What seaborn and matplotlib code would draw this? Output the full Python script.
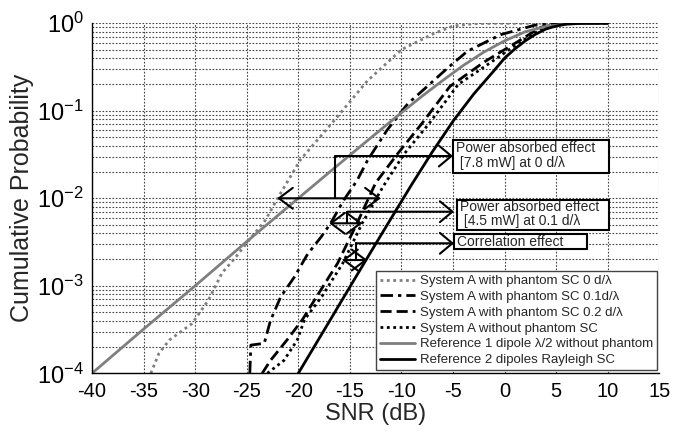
import matplotlib
matplotlib.use("Agg")
import matplotlib.pyplot as plt
from matplotlib.lines import Line2D
from matplotlib.patches import Rectangle
import seaborn as sns
import pandas as pd

# ---------------- data ----------------
snr_sc0 = [-34.3, -33.5, -32.5, -30.3, -28.7, -27.4, -26.1, -24.8, -23.2, -21.9,
           -19.8, -16.5, -13.3, -10.0, -6.8, -5.0, -3.0, -1.0, 10.0]
cdf_sc0 = [1e-4, 1.7e-4, 2.4e-4, 3.7e-4, 6.9e-4, 1.4e-3, 2.1e-3, 3.3e-3, 5.6e-3, 0.0105,
           0.0275, 0.078, 0.22, 0.50, 0.77, 0.93, 0.99, 1.0, 1.0]

snr_sc01 = [-24.7, -24.6, -23.3, -22.7, -21.7, -20.4, -19.1, -17.8, -16.9, -15.6,
            -14.3, -13.3, -11.4, -9.4, -7.5, -5.5, -3.6, -0.4, 2.9, 5.0, 7.0, 10.0]
cdf_sc01 = [1e-4, 2.1e-4, 2.2e-4, 4e-4, 7.5e-4, 1.25e-3, 2.3e-3, 3.6e-3, 5.1e-3, 9.5e-3,
            0.016, 0.027, 0.06, 0.12, 0.19, 0.31, 0.48, 0.74, 0.95, 0.995, 1.0, 1.0]

snr_sc02 = [-23.5, -22.7, -21.1, -19.6, -18.2, -16.2, -14.3, -12.5, -10.4, -8.0,
            -5.3, -2.0, 1.3, 3.5, 5.5, 7.0, 10.0]
cdf_sc02 = [1e-4, 1.4e-4, 2.4e-4, 4.1e-4, 7.6e-4, 1.8e-3, 5.2e-3, 0.015, 0.032, 0.072,
            0.19, 0.36, 0.62, 0.9, 0.99, 1.0, 1.0]

snr_nophantom = [-23.0, -21.4, -20.1, -19.4, -17.7, -15.7, -13.8, -11.8, -9.75, -7.3,
                 -4.5, -1.3, 1.6, 3.9, 6.0, 8.0, 10.0]
cdf_nophantom = [1e-4, 1.4e-4, 2.4e-4, 4.1e-4, 7.6e-4, 1.8e-3, 5.2e-3, 0.0135, 0.032, 0.072,
                 0.2, 0.36, 0.62, 0.9, 0.99, 1.0, 1.0]

snr_ref1 = [-40, -35, -30, -25, -20, -17, -14, -12, -10, -8, -6, -4, -2, 0, 2, 4, 6, 8, 10]
cdf_ref1 = [1.0e-4, 3.2e-4, 1.0e-3, 3.2e-3, 0.01, 0.0198, 0.039, 0.061, 0.095, 0.147,
            0.222, 0.33, 0.47, 0.63, 0.80, 0.92, 0.98, 0.998, 1.0]

snr_ref2 = [-20, -17, -15, -13, -11, -9, -7, -5, -3, -1, 0, 1, 2, 3, 4, 5, 6, 7, 8, 10]
cdf_ref2 = [1.0e-4, 3.9e-4, 9.7e-4, 2.4e-3, 5.9e-3, 0.0144, 0.034, 0.076, 0.155, 0.29,
            0.40, 0.51, 0.63, 0.75, 0.86, 0.93, 0.98, 0.995, 0.999, 1.0]

labels = [
    "System A with phantom SC 0 d/\u03bb",
    "System A with phantom SC 0.1d/\u03bb",
    "System A with phantom SC 0.2 d/\u03bb",
    "System A without phantom SC",
    "Reference 1 dipole \u03bb/2 without phantom",
    "Reference 2 dipoles Rayleigh SC",
]
xticks = [-40, -35, -30, -25, -20, -15, -10, -5, 0, 5, 10, 15]

# ---------------- styling ----------------
sns.set_style("white")
plt.rcParams["font.family"] = ["Liberation Sans", "DejaVu Sans"]
plt.rcParams["mathtext.fontset"] = "custom"
plt.rcParams["mathtext.rm"] = "Liberation Sans"
plt.rcParams["mathtext.it"] = "Liberation Sans:italic"

GRAY = "#7f7f7f"
styles = [
    dict(color=GRAY, linestyle=(0, (1, 1.3)), lw=2.0),
    dict(color="black", linestyle=(0, (4.5, 1.8, 1.2, 1.8)), lw=2.0),
    dict(color="black", linestyle=(0, (4, 1.8)), lw=2.0),
    dict(color="black", linestyle=(0, (1, 1.3)), lw=2.0),
    dict(color=GRAY, linestyle="-", lw=2.0),
    dict(color="black", linestyle="-", lw=2.0),
]
series = [(snr_sc0, cdf_sc0), (snr_sc01, cdf_sc01), (snr_sc02, cdf_sc02),
          (snr_nophantom, cdf_nophantom), (snr_ref1, cdf_ref1), (snr_ref2, cdf_ref2)]

fig = plt.figure(figsize=(6.73, 4.32), dpi=100)
ax = fig.add_axes([92 / 673, 1 - 373.3 / 432, (659.3 - 92) / 673, (373.3 - 23.3) / 432])

for (xs, ys), st, lab in zip(series, styles, labels):
    df = pd.DataFrame({"snr": xs, "cdf": ys})
    sns.lineplot(data=df, x="snr", y="cdf", ax=ax, label=None, legend=False,
                 estimator=None, sort=False, **st)

ax.set_yscale("log")
ax.set_xlim(-40, 15)
ax.set_ylim(1e-4, 1)
ax.set_xticks(xticks)
ax.set_xticklabels([str(t) for t in xticks])
ax.tick_params(axis="x", which="major", labelsize=14.5, direction="in", length=4,
               width=0.8, colors="black", pad=6)
ax.tick_params(axis="y", which="major", labelsize=17, direction="in", length=4,
               width=0.8, colors="black", pad=6)
ax.tick_params(axis="y", which="minor", direction="in", length=2, width=0.6)
ax.grid(True, which="major", axis="both", linestyle=(0, (1.5, 1.5)), color="#444444", lw=0.8)
ax.grid(True, which="minor", axis="y", linestyle=(0, (1.5, 1.5)), color="#444444", lw=0.8)
for s in ["top", "right"]:
    ax.spines[s].set_visible(False)
for s in ["left", "bottom"]:
    ax.spines[s].set_color("black")
    ax.spines[s].set_linewidth(1.0)

ax.set_xlabel("SNR (dB)", fontsize=17, labelpad=2)
ax.set_ylabel("Cumulative Probability", fontsize=18, labelpad=2)

# legend
handles = [Line2D([0], [0], **st) for st in styles]
leg = ax.legend(handles, labels, loc="lower right", bbox_to_anchor=(0.996, 0.009),
                borderaxespad=0, fontsize=9.5, frameon=True, fancybox=False,
                framealpha=1, edgecolor="#444444", labelspacing=0.27,
                handlelength=2.6, handletextpad=0.4, borderpad=0.3)
leg.get_frame().set_linewidth(1.0)

# ---------------- annotations ----------------
ARW = dict(color="black", lw=1.5, shrinkA=0, shrinkB=0)
one_way = "->, head_length=0.9, head_width=0.75"
two_way = "<->, head_length=1.0, head_width=0.75"

# (box x0, x1, y_low, y_high, text lines with y positions)
boxes = [
    (-5.0, 10.08, 0.0193, 0.0463, [("Power absorbed effect", 0.0378), (" [7.8 mW] at 0 d/\u03bb", 0.0252)]),
    (-4.65, 10.08, 0.00434, 0.00957, [("Power absorbed effect", 0.00795), (" [4.5 mW] at 0.1 d/\u03bb", 0.0055)]),
    (-4.87, 7.97, 0.00261, 0.00388, [("Correlation effect", 0.0032)]),
]
for x0, x1, y0, y1, lines in boxes:
    ax.add_patch(Rectangle((x0, y0), x1 - x0, y1 - y0, facecolor="white",
                           edgecolor="black", lw=1.5, zorder=5))
    for txt, yy in lines:
        ax.text(x0 + 0.3, yy, txt, fontsize=10.0, va="center", ha="left", zorder=6)

# (bracket x, upper y, arrow end x, lower y, left tip x, right tip x)
brackets = [
    (-16.4, 0.0304, -5.0, 0.0100, -22.05, -12.0),
    (-15.25, 0.00703, -4.9, 0.00518, -17.0, -13.8),
    (-14.4, 0.00306, -4.9, 0.00197, -15.75, -13.3),
]
for bx, uy, ex, ly, lx, rx in brackets:
    ax.annotate("", xy=(ex, uy), xytext=(bx, uy),
                arrowprops=dict(arrowstyle=one_way, **ARW), zorder=7)
    ax.plot([bx, bx], [uy, ly], color="black", lw=1.5, zorder=7)
    ax.annotate("", xy=(rx, ly), xytext=(lx, ly),
                arrowprops=dict(arrowstyle=two_way, **ARW), zorder=7)

fig.savefig("out.png", dpi=100)
